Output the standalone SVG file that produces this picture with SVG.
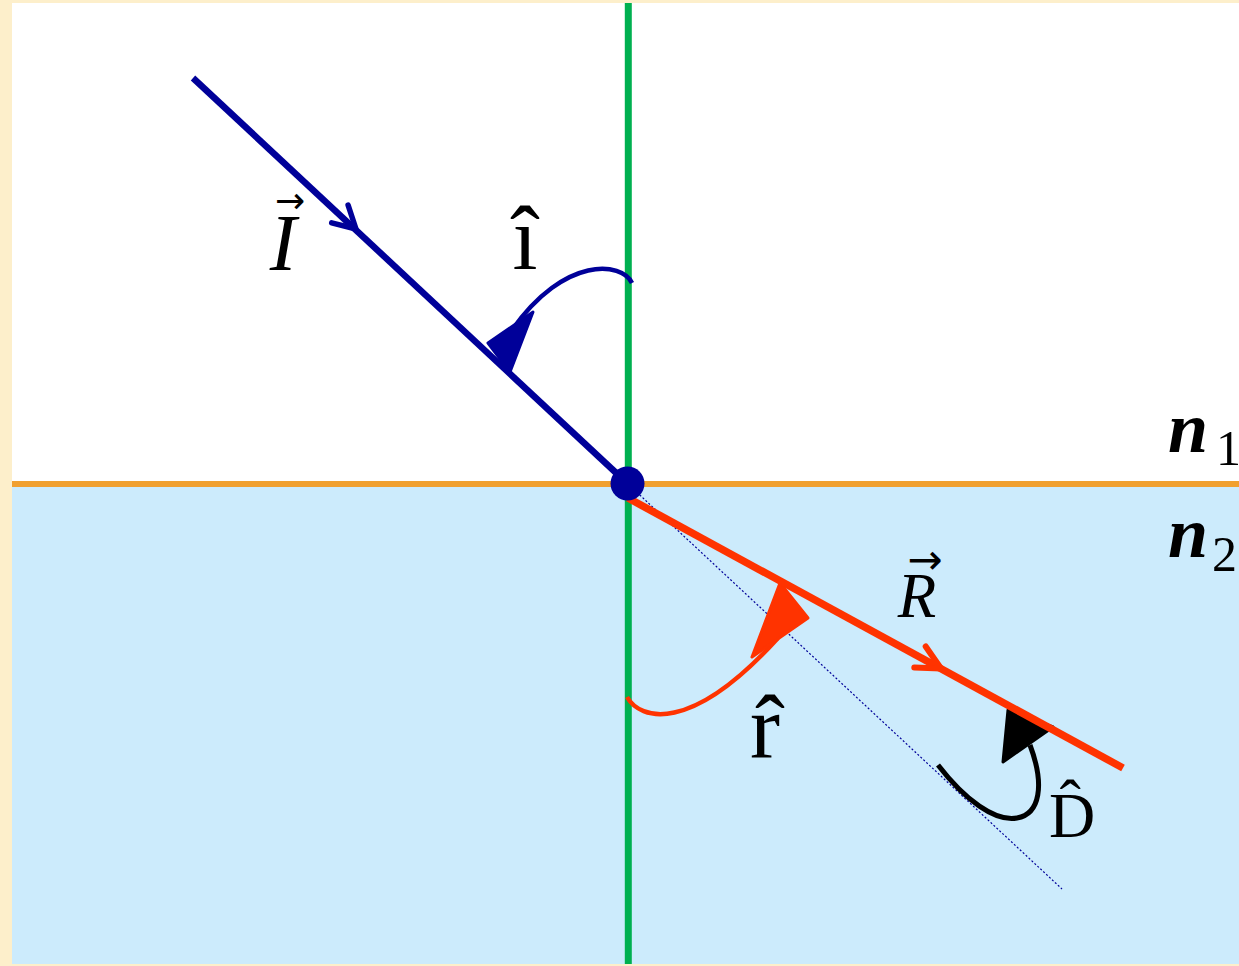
<svg xmlns="http://www.w3.org/2000/svg" width="1239" height="966" viewBox="0 0 1239 966">
<style>
.lbl{font-family:"Liberation Serif","Times New Roman",serif;fill:#000}
.it{font-style:italic}
.arr{font-family:"DejaVu Sans",sans-serif;font-style:normal;fill:#000}
.blue{stroke:#000099;fill:none}
.red{stroke:#FF3300;fill:none}
</style>
<g id="background">
<rect x="0" y="0" width="1239" height="966" fill="#FDEFCB"/>
<rect x="12" y="3" width="1227" height="482" fill="#FFFFFF"/>
<rect x="12" y="484" width="1227" height="480" fill="#CCEBFC"/>
</g>
<g id="connectors">
<line id="interface" x1="12" y1="484" x2="1239" y2="484" stroke="#F1A02F" stroke-width="6"/>
<line id="normal" x1="628.3" y1="3" x2="628.3" y2="964" stroke="#00B050" stroke-width="7"/>
<line id="extension" x1="628" y1="484" x2="1062" y2="889" stroke="#000099" stroke-width="1.2" stroke-dasharray="2 2"/>
<line id="incident" class="blue" x1="193" y1="78" x2="628" y2="484" stroke-width="6.5"/>
<polyline class="blue" points="331.7,222.8 356,229 348.1,205.2" stroke-width="5.5" stroke-linecap="round" stroke-linejoin="round"/>
<path id="arc-i" class="blue" d="M632,283 C622,262 565,255 512,330" stroke-width="4.5"/>
<polygon points="488,343 533,312 510,372" fill="#000099" stroke="#000099" stroke-width="3" stroke-linejoin="round"/>
<path id="arc-r" class="red" d="M627,697 C640,720 690,735 778,638" stroke-width="4.5"/>
<polygon points="752,657 808,618 780,583" fill="#FF3300" stroke="#FF3300" stroke-width="3" stroke-linejoin="round"/>
<path id="arc-d" d="M938,765 C965,800 995,822 1017,818 C1040,814 1045,785 1030,745" fill="none" stroke="#000" stroke-width="5"/>
<polygon points="1003,762 1053,727 1008,710" fill="#000" stroke="#000" stroke-width="3" stroke-linejoin="round"/>
<line id="refracted" class="red" x1="628" y1="498" x2="1123" y2="768" stroke-width="7.5"/>
<polyline class="red" points="914.3,667.5 941,668.5 925.7,646.5" stroke-width="6" stroke-linecap="round" stroke-linejoin="round"/>
</g>
<g id="incidence-point">
<circle cx="627.5" cy="483.5" r="17" fill="#000099"/>
</g>
<g id="label-I">
<text class="lbl it" x="283" y="270" font-size="80" text-anchor="middle">I<tspan class="arr" x="290" y="213" font-size="36" text-anchor="middle">→</tspan></text>
</g>
<g id="label-i-hat">
<text class="lbl" x="525" y="269" font-size="90" text-anchor="middle">î</text>
</g>
<g id="label-R">
<text class="lbl it" x="917" y="617" font-size="63" text-anchor="middle">R<tspan class="arr" x="925" y="574" font-size="42" text-anchor="middle">→</tspan></text>
</g>
<g id="label-r-hat">
<text class="lbl" x="765" y="758" font-size="90" text-anchor="middle">r̂</text>
</g>
<g id="label-D-hat">
<text class="lbl" x="1072" y="837" font-size="64" text-anchor="middle">D̂</text>
</g>
<g id="label-n1">
<text class="lbl it" x="1168" y="452" font-size="72" font-weight="bold">n<tspan class="lbl" x="1216" y="465" font-size="50" font-weight="normal" font-style="normal">1</tspan></text>
</g>
<g id="label-n2">
<text class="lbl it" x="1168" y="557" font-size="72" font-weight="bold">n<tspan class="lbl" x="1212" y="571" font-size="50" font-weight="normal" font-style="normal">2</tspan></text>
</g>
</svg>
